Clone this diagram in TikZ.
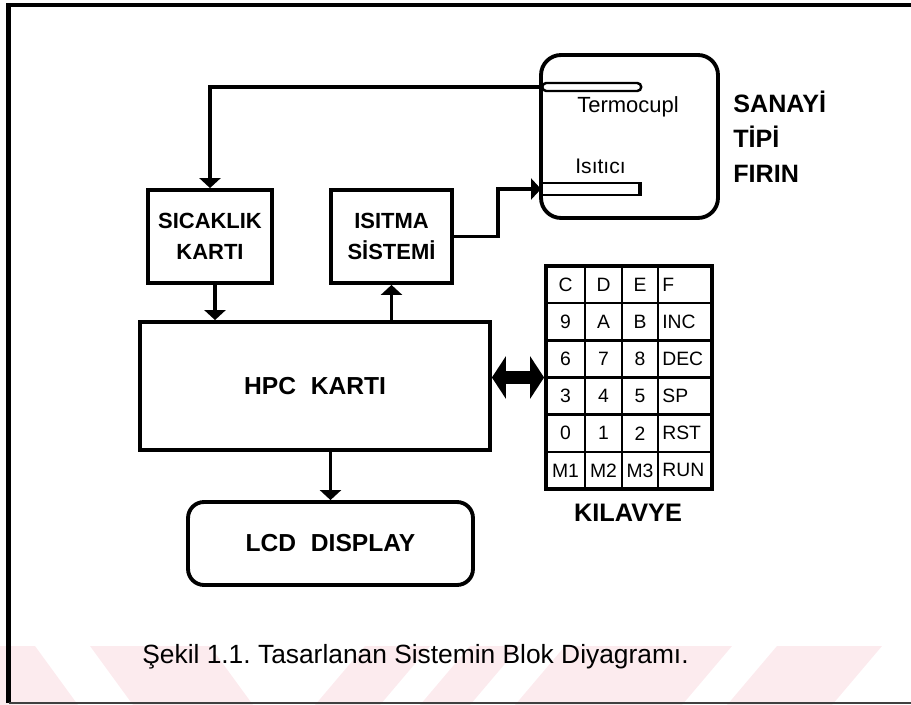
\documentclass[tikz,border=0pt]{standalone}
\usepackage{fontspec}
\setmainfont{Liberation Sans}
\usetikzlibrary{arrows.meta, positioning}
\definecolor{filigran}{RGB}{252,235,238}
\frenchspacing

\begin{document}
\begin{tikzpicture}[x=0.02cm, y=-0.02cm, >={Triangle[width=0.42cm,length=0.2cm]},
  block/.style={rectangle, draw, line width=2.2pt, align=center, inner sep=0pt,
    font=\fontsize{12.5}{17.6}\selectfont\bfseries},
  rblock/.style={block, rounded corners=0.32cm},
  wire/.style={->, line width=2.2pt},
  bus/.style={{Triangle[width=0.84cm,length=0.28cm]}-{Triangle[width=0.84cm,length=0.28cm]}, line width=0.26cm},
  probe/.style={rectangle, draw, line width=1.4pt, minimum width=1.98cm, minimum height=0.16cm, inner sep=0pt},
  keylbl/.style={font=\fontsize{11}{13}\selectfont, inner sep=0pt},
  big/.style={font=\fontsize{14.3}{19.8}\selectfont\bfseries, inner sep=0pt, align=left}]

  \useasboundingbox (0,0) rectangle (911,705);

  % watermark stripes at the bottom
  \foreach \a/\b in {-60/35, 90/210}
    \fill[filigran] (\a,646) -- (\b,646) -- (\b+43,705) -- (\a+43,705) -- cycle;
  \foreach \a/\b in {365/430, 470/520, 565/732, 777/882}
    \fill[filigran] (\a,646) -- (\b,646) -- (\b-50,705) -- (\a-50,705) -- cycle;

  % frame
  \draw[line width=2.5pt] (911,5) -- (8.5,5) -- (8.5,703);
  \draw[line width=0.8pt, black!75] (8.5,703) -- (911,703);

  % blocks
  \node[block, minimum width=2.48cm, minimum height=1.86cm] (sicaklik) at (210,236.5) {SICAKLIK\\KARTI};
  \node[block, minimum width=2.42cm, minimum height=1.86cm] (isitma) at (391.5,236.5) {ISITMA\\SİSTEMİ};
  \node[block, minimum width=7cm, minimum height=2.56cm, font=\fontsize{14}{17}\selectfont\bfseries] (hpc) at (315,386) {HPC\hspace{0.6em}KARTI};
  \node[rblock, minimum width=5.7cm, minimum height=1.66cm, font=\fontsize{14}{17}\selectfont\bfseries] (lcd) at (330.5,543.5) {LCD\hspace{0.6em}DISPLAY};

  % furnace
  \node[rblock, rounded corners=0.4cm, minimum width=3.54cm, minimum height=3.26cm] (firin) at (629.5,136.5) {};
  \node[probe, rounded corners=0.08cm, anchor=west] (tc) at (541,87) {};
  \node[probe, minimum height=0.24cm, anchor=west] (isi) at (541,189) {};
  \fill (isi.north east) ++(-0.08cm,0) rectangle (isi.south east);
  \node[font=\fontsize{12.5}{15}\selectfont, anchor=west, inner sep=0pt] (tclbl) at (577,107) {Termocupl};
  \node[font=\fontsize{12}{15}\selectfont, anchor=west, inner sep=0pt] (isilbl) at (575,166) {Isıtıcı};
  \node[big, anchor=west] (firinlbl) at (733,137) {SANAYİ\\TİPİ\\FIRIN};

  % keyboard
  \node[rectangle, draw, line width=2.2pt, minimum width=3.32cm, minimum height=4.46cm, inner sep=0pt] (kbd) at (629,377.5) {};
  \foreach \x in {585,622,658}
    \draw[line width=1.4pt] (kbd.north -| \x,0) -- (kbd.south -| \x,0);
  \foreach \i in {1,...,5}
    \draw[line width=1.4pt] (kbd.west |- 0,{266+37.17*\i}) -- (kbd.east |- 0,{266+37.17*\i});
  \foreach \r/\a/\b/\c/\d in {1/C/D/E/F, 2/9/A/B/INC, 3/6/7/8/DEC, 4/3/4/5/SP, 5/0/1/2/RST, 6/M1/M2/M3/RUN} {
    \pgfmathsetmacro\yy{266+37.17*(\r-0.5)}
    \node[keylbl] (k\r-1) at (565.5,\yy) {\a};
    \node[keylbl] (k\r-2) at (603.5,\yy) {\b};
    \node[keylbl] (k\r-3) at (640,\yy) {\c};
    \node[keylbl, anchor=west] (k\r-4) at (662,\yy) {\d};
  }
  \node[big, font=\fontsize{14.4}{17}\selectfont\bfseries] (kilavye) at (628,513) {KILAVYE};

  % connections
  \draw[wire] (tc.west) -| (sicaklik.north);
  \draw[wire] (isitma.east) -- ++(44,0) |- (isi.west);
  \draw[wire] ([xshift=0.1cm]sicaklik.south) -- ([xshift=0.1cm]sicaklik.south |- hpc.north);
  \draw[wire] (isitma.south |- hpc.north) -- (isitma.south);
  \draw[wire] (lcd.north |- hpc.south) -- (lcd.north);
  \draw[bus] (hpc.east |- kbd.west) -- (kbd.west);

  \node[anchor=base west, inner sep=0pt, font=\fontsize{15}{18}\selectfont] (caption) at (142,663) {Şekil 1.1. Tasarlanan Sistemin Blok Diyagramı.};
\end{tikzpicture}
\end{document}
